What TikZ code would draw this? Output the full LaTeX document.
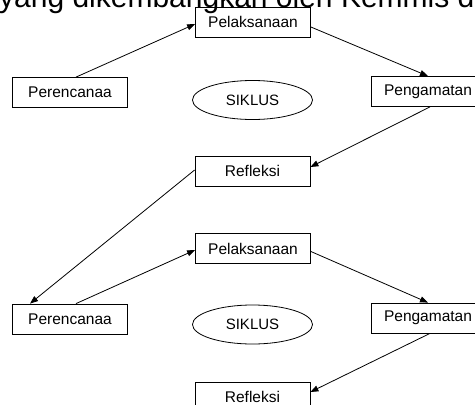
\documentclass[tikz,border=0pt]{standalone}
\usepackage{fontspec}
\setmainfont{Liberation Sans}
\usetikzlibrary{shapes.geometric,arrows.meta}

\begin{document}
\begin{tikzpicture}[x=1pt,y=-1pt,
	box/.style={draw,line width=0.8pt,minimum width=115pt,minimum height=30pt,inner sep=0pt,font=\fontsize{15.5}{18}\selectfont},
	siklus/.style={ellipse,draw,line width=0.8pt,minimum width=120pt,minimum height=39pt,inner sep=0pt,font=\fontsize{15}{18}\selectfont},
	arr/.style={line width=0.8pt,-{Triangle[length=8pt,width=6pt]}}]
	\useasboundingbox (0,0) rectangle (475,405);
	\node[anchor=base west,inner sep=0pt,font=\fontsize{30}{36}\selectfont] (judul) at (-1,7) {yang dikembangkan oleh Kemmis da};
	% siklus 1
	\node[box] (pel1) at (253,22) {Pelaksanaan};
	\node[box] (per1) at (70,92.5) {Perencanaa};
	\node[siklus] (sik1) at (252.5,100) {SIKLUS};
	\node[box,minimum width=114pt] (pen1) at (428,91.5) {Pengamatan};
	\node[box] (ref1) at (252.5,171) {Refleksi};
	% siklus 2
	\node[box] (pel2) at (253,248.5) {Pelaksanaan};
	\node[box] (per2) at (70,319) {Perencanaa};
	\node[siklus] (sik2) at (252.5,324.5) {SIKLUS};
	\node[box,minimum width=114pt] (pen2) at (428,318) {Pengamatan};
	\node[box] (ref2) at (252.5,397) {Refleksi};
	%
	\draw[arr] ([xshift=6pt]per1.north) -- ([yshift=-2pt]pel1.west);
	\draw[arr] ([yshift=-5pt]pel1.east) -- (pen1.north);
	\draw[arr] ([xshift=2pt]pen1.south) -- ([yshift=4pt]ref1.east);
	\draw[arr] ([yshift=1pt]ref1.west) -- ([xshift=-40pt]per2.north);
	\draw[arr] ([xshift=6pt]per2.north) -- ([yshift=-1.5pt]pel2.west);
	\draw[arr] ([yshift=-3pt]pel2.east) -- (pen2.north);
	\draw[arr] ([xshift=2pt]pen2.south) -- ([yshift=5pt]ref2.east);
\end{tikzpicture}
\end{document}
